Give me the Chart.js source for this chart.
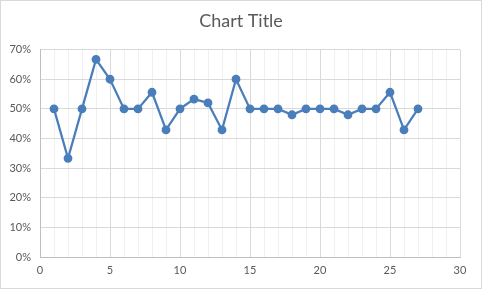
<!DOCTYPE html>
<html>
<head>
<meta charset="utf-8">
<script src="https://cdn.jsdelivr.net/npm/chart.js@4"></script>
<style>
  html, body { margin: 0; padding: 0; background: #fff; }
  #wrap { width: 482px; height: 289px; position: relative; }
</style>
</head>
<body>
<div id="wrap"><canvas id="c"></canvas></div>
<script>
// data
var xValues = [1, 2, 3, 4, 5, 6, 7, 8, 9, 10, 11, 12, 13, 14, 15, 16, 17, 18, 19, 20, 21, 22, 23, 24, 25, 26, 27];
var yValues = [0.5, 0.333, 0.5, 0.667, 0.6, 0.5, 0.5, 0.556, 0.429, 0.5, 0.533, 0.52, 0.429, 0.6,
               0.5, 0.5, 0.5, 0.48, 0.5, 0.5, 0.5, 0.48, 0.5, 0.5, 0.556, 0.429, 0.5];
var chartTitle = 'Chart Title';
var xMin = 0, xMax = 30, xMajor = 5;
var yMin = 0, yMax = 0.7, yStep = 0.1;

var points = [];
for (var i = 0; i < xValues.length; i++) {
    points.push({ x: xValues[i], y: yValues[i] });
}

var textColor = '#595959';
var fontFamily = 'Lato, "Open Sans", sans-serif';

// white background + thin outer frame, like the Excel chart box
var frame = {
    id: 'frame',
    beforeDraw: function(chart) {
        var ctx = chart.ctx;
        ctx.save();
        ctx.fillStyle = '#fff';
        ctx.fillRect(0, 0, chart.width, chart.height);
        ctx.strokeStyle = '#d9d9d9';
        ctx.lineWidth = 1;
        ctx.strokeRect(0.5, 0.5, chart.width - 1, chart.height - 1);
        ctx.restore();
    },
    // centre the title on the whole canvas, not on the padded box
    afterLayout: function(chart) {
        var t = chart.titleBlock;
        if (t) {
            t.left = 0;
            t.right = chart.width;
            t.width = chart.width;
        }
    }
};

new Chart(document.getElementById('c'), {
    type: 'scatter',
    data: {
        datasets: [{
            data: points,
            showLine: true,
            borderColor: '#4a7ebb',
            backgroundColor: '#4a7ebb',
            borderWidth: 2.25,
            pointRadius: 3.3,
            pointHoverRadius: 3.3,
            tension: 0
        }]
    },
    options: {
        responsive: true,
        maintainAspectRatio: false,
        animation: false,
        layout: { padding: { left: 0, right: 22, top: 0, bottom: 0 } },
        plugins: {
            legend: { display: false },
            tooltip: { enabled: false },
            title: {
                display: true,
                text: chartTitle,
                color: textColor,
                font: { family: fontFamily, size: 18, weight: 'normal' },
                padding: { top: 10, bottom: 18 }
            }
        },
        scales: {
            x: {
                type: 'linear',
                min: xMin,
                max: xMax,
                afterFit: function(scale) { scale.height = 32; },
                border: { color: '#bfbfbf' },
                grid: {
                    drawTicks: false,
                    color: function(ctx) {
                        return ctx.tick && ctx.tick.value % xMajor === 0 ? '#d9d9d9' : '#efefef';
                    }
                },
                ticks: {
                    stepSize: 1,
                    autoSkip: false,
                    maxRotation: 0,
                    padding: 7,
                    color: textColor,
                    font: { family: fontFamily, size: 11 },
                    callback: function(v) { return v % xMajor === 0 ? String(v) : ''; }
                }
            },
            y: {
                min: yMin,
                max: yMax,
                afterFit: function(scale) { scale.width = 40; },
                border: { color: '#bfbfbf' },
                grid: { drawTicks: false, color: '#d9d9d9' },
                ticks: {
                    stepSize: yStep,
                    padding: 9,
                    color: textColor,
                    font: { family: fontFamily, size: 11 },
                    callback: function(v) { return Math.round(v * 100) + '%'; }
                }
            }
        }
    },
    plugins: [frame]
});
</script>
</body>
</html>
